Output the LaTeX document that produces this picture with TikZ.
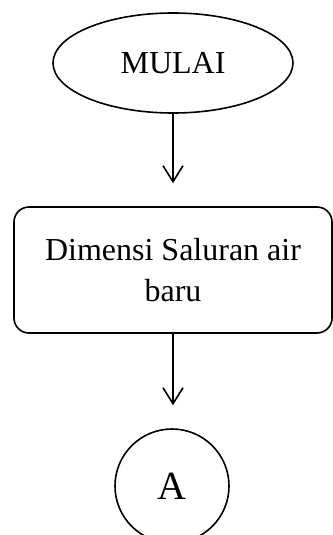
\documentclass[tikz,border=0pt]{standalone}
\usepackage{fontspec}
\setmainfont{Liberation Serif}
\usetikzlibrary{arrows.meta,shapes.geometric}

\begin{document}
\begin{tikzpicture}[x=1pt,y=-1pt,line width=1.6pt,
  terminal/.style={draw,ellipse,minimum width=240pt,minimum height=100pt,font=\fontsize{32}{40}\selectfont},
  process/.style={draw,rounded corners=15pt,minimum width=318pt,minimum height=126pt,align=center,font=\fontsize{32}{41}\selectfont},
  connector/.style={draw,circle,minimum size=114pt,inner sep=0pt,font=\fontsize{40}{48}\selectfont},
  flow/.style={-{Straight Barb[length=16pt,width=20pt]},shorten >=23pt}]
\useasboundingbox (0,0) rectangle (332,535);
\node[terminal] (mulai) at (173,63) {MULAI};
\node[process] (dimensi) at (173,270) {Dimensi Saluran air\\baru};
\node[connector] (a) at (172,486) {A};
\draw[flow] (mulai.south) -- (mulai.south |- dimensi.north);
\draw[flow] (dimensi.south) -- (dimensi.south |- a.north);
\end{tikzpicture}
\end{document}
